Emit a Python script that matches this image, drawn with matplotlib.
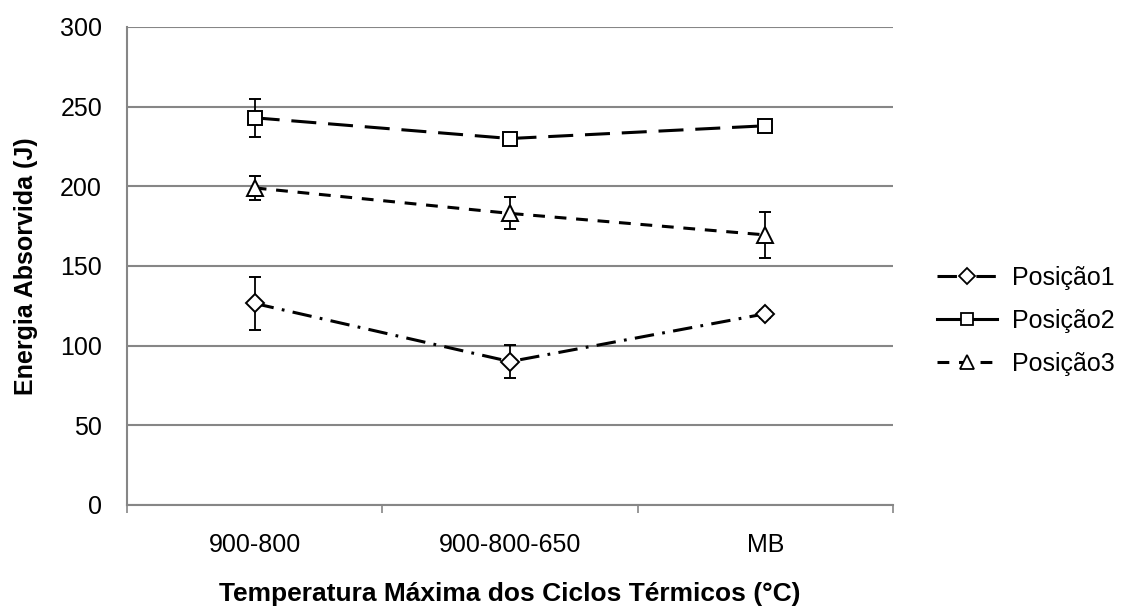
import matplotlib.pyplot as plt
from matplotlib.lines import Line2D
import numpy as np

plt.rcParams['font.family'] = ['Liberation Sans', 'DejaVu Sans']
plt.rcParams['lines.scale_dashes'] = False

categorias = ['900-800', '900-800-650', 'MB']
pos1 = [126.5, 90, 120]
pos1_err = [16.5, 10.5, 2.5]
pos2 = [243, 230, 238]
pos2_err = [12, 2, 2]
pos3 = [199, 183, 169.5]
pos3_err = [7.5, 10, 14.5]

fig = plt.figure(figsize=(11.24, 6.09), dpi=100)
ax = fig.add_axes([0.113, 0.1708, 0.6815, 0.7849])

x = np.arange(1, len(categorias) + 1)
grey = '#868686'

series = [
    ('Posição1', pos1, pos1_err, 'D', (0, (14, 6, 2, 6)), 9),
    ('Posição2', pos2, pos2_err, 's', (0, (18, 8.5)), 10),
    ('Posição3', pos3, pos3_err, '^', (0, (8.5, 7)), 12),
]
handles = []
for nome, y, err, mk, ls, ms in series:
    ax.errorbar(x, y, yerr=err, color='black', lw=2.2, ls=ls,
                marker=mk, ms=ms, mfc='white', mec='black', mew=1.4,
                ecolor='black', elinewidth=1.3, capsize=4, capthick=1.3,
                zorder=3)
    handles.append(Line2D([], [], color='black', lw=2.2, ls=ls, marker=mk,
                          ms=ms * 0.85, mfc='white', mec='black', mew=1.3,
                          label=nome))
# no legend, Posição2 aparece com linha continua
handles[1].set_linestyle('-')

ax.set_xlim(0.5, 3.5)
ax.set_ylim(0, 300)
ax.set_yticks(range(0, 301, 50))
ax.yaxis.grid(True, color=grey, lw=1.5)
ax.set_axisbelow(True)
ax.set_xticks(x)
ax.set_xticklabels(categorias)
ax.tick_params(axis='x', length=0, labelsize=18, pad=20)
ax.tick_params(axis='y', length=0, labelsize=18, pad=18)
ax.set_xticks([0.5, 1.5, 2.5, 3.5], minor=True)
ax.tick_params(axis='x', which='minor', length=6, width=1.2, color=grey, direction='out')

for s in ['top', 'right']:
    ax.spines[s].set_visible(False)
for s in ['left', 'bottom']:
    ax.spines[s].set_color(grey)
    ax.spines[s].set_linewidth(1.5)

ax.set_ylabel('Energia Absorvida (J)', fontsize=18, fontweight='bold', labelpad=16)
ax.set_xlabel('Temperatura Máxima dos Ciclos Térmicos (°C)', fontsize=19,
              fontweight='bold', labelpad=18)

fig.legend(handles=handles, loc='center left', bbox_to_anchor=(0.834, 0.473),
           frameon=False, fontsize=18, handlelength=2.4, handletextpad=0.6,
           labelspacing=0.75, borderpad=0, borderaxespad=0)

fig.savefig('out.png', dpi=100)
